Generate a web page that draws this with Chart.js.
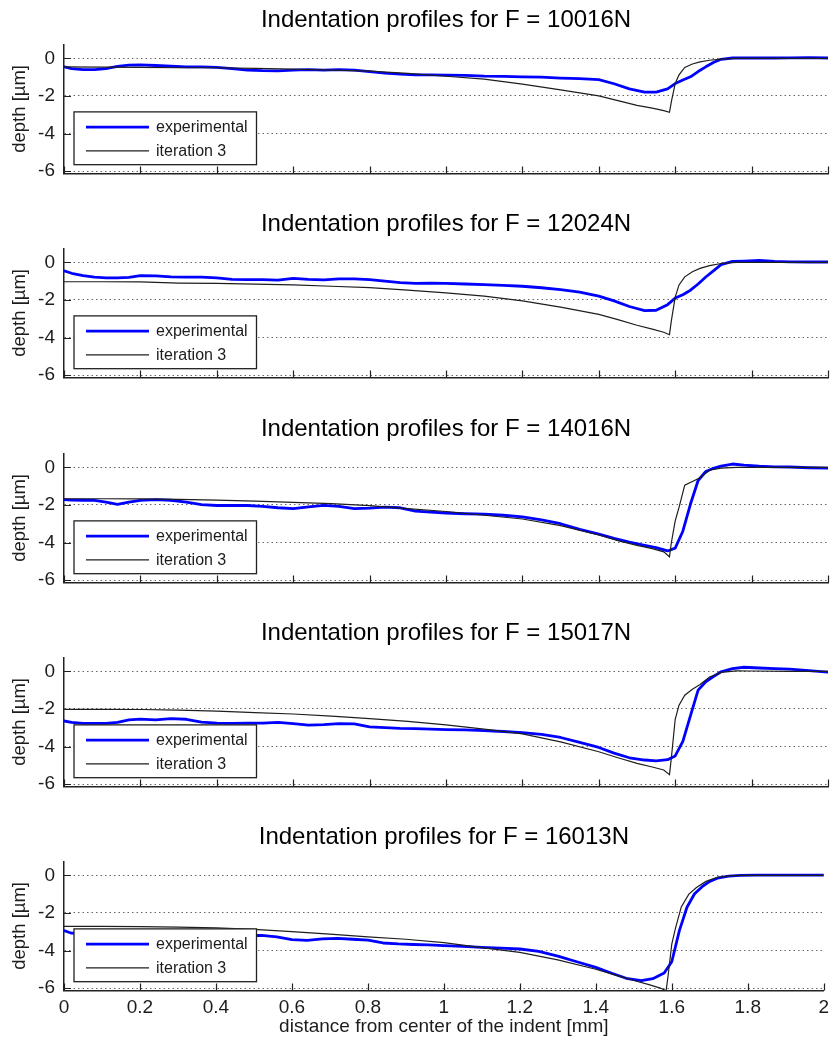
<!DOCTYPE html>
<html>
<head>
<meta charset="utf-8">
<script src="https://cdn.jsdelivr.net/npm/chart.js@4/dist/chart.umd.min.js"></script>
<style>
  html, body { margin: 0; padding: 0; background: #fff; }
  #wrap { position: relative; width: 835px; height: 1047px; overflow: hidden; }
  #wrap canvas { position: absolute; left: 0; }
</style>
</head>
<body>
<div id="wrap"></div>
<script>
// Applied loads, one panel each
const forces = [10016, 12024, 14016, 15017, 16013];

// Axis ticks
const xTicks = [0, 0.2, 0.4, 0.6, 0.8, 1, 1.2, 1.4, 1.6, 1.8, 2];
const yTicks = [0, -2, -4, -6];

// Measured profiles: distance [mm] and depth [µm]
const expX = [0, 0.02, 0.05, 0.08, 0.11, 0.14, 0.17, 0.2, 0.24, 0.28,
  0.32, 0.36, 0.4, 0.44, 0.48, 0.52, 0.56, 0.6, 0.64, 0.68,
  0.72, 0.76, 0.8, 0.84, 0.88, 0.92, 0.96, 1.0, 1.05, 1.1,
  1.15, 1.2, 1.25, 1.3, 1.35, 1.4, 1.44, 1.48, 1.52, 1.55,
  1.58, 1.6, 1.62, 1.64, 1.66, 1.68, 1.7, 1.72, 1.75, 1.78,
  1.82, 1.86, 1.9, 1.95, 2.0];

const exp10016 = [-0.45, -0.55, -0.6, -0.6, -0.55, -0.42, -0.36, -0.35, -0.38, -0.42,
  -0.45, -0.45, -0.48, -0.55, -0.62, -0.65, -0.66, -0.62, -0.6, -0.62,
  -0.6, -0.63, -0.7, -0.78, -0.84, -0.88, -0.88, -0.89, -0.9, -0.95,
  -0.96, -0.98, -1.0, -1.05, -1.08, -1.13, -1.35, -1.62, -1.8, -1.8,
  -1.62, -1.34, -1.15, -0.98, -0.7, -0.45, -0.22, -0.05, 0.02, 0.02,
  0.03, 0.02, 0.03, 0.04, 0.02];

const exp12024 = [-0.45, -0.58, -0.7, -0.78, -0.82, -0.82, -0.8, -0.7, -0.72, -0.77,
  -0.78, -0.78, -0.82, -0.9, -0.92, -0.92, -0.95, -0.85, -0.9, -0.93,
  -0.88, -0.88, -0.92, -1.0, -1.08, -1.12, -1.1, -1.12, -1.15, -1.18,
  -1.22, -1.27, -1.35, -1.45, -1.58, -1.8, -2.05, -2.35, -2.57, -2.55,
  -2.25, -1.9, -1.72, -1.48, -1.15, -0.78, -0.45, -0.12, 0.05, 0.07,
  0.1, 0.05, 0.03, 0.02, 0.02];

const exp14016 = [-1.72, -1.74, -1.75, -1.76, -1.85, -1.97, -1.85, -1.76, -1.72, -1.75,
  -1.85, -1.98, -2.03, -2.03, -2.03, -2.08, -2.15, -2.2, -2.1, -2.02,
  -2.08, -2.2, -2.17, -2.12, -2.15, -2.33, -2.38, -2.43, -2.47, -2.49,
  -2.55, -2.63, -2.8, -3.0, -3.3, -3.55, -3.78, -3.98, -4.15, -4.27,
  -4.45, -4.3, -3.4, -1.95, -0.7, -0.22, -0.05, 0.07, 0.18, 0.12,
  0.06, 0.03, 0.02, -0.02, -0.04];

const exp15017 = [-2.64, -2.72, -2.77, -2.77, -2.77, -2.72, -2.58, -2.54, -2.58, -2.52,
  -2.55, -2.7, -2.76, -2.77, -2.76, -2.75, -2.72, -2.78, -2.86, -2.84,
  -2.78, -2.8, -2.95, -3.0, -3.04, -3.05, -3.08, -3.1, -3.12, -3.15,
  -3.2, -3.26, -3.35, -3.52, -3.78, -4.05, -4.35, -4.6, -4.72, -4.76,
  -4.7, -4.5, -3.73, -2.36, -1.0, -0.55, -0.28, -0.02, 0.15, 0.22,
  0.18, 0.15, 0.12, 0.04, -0.04];

const exp16013 = [-2.94, -3.08, -3.1, -3.1, -3.1, -3.12, -3.1, -3.08, -3.1, -3.12,
  -3.15, -3.15, -3.15, -3.18, -3.2, -3.2, -3.28, -3.42, -3.46, -3.38,
  -3.35, -3.4, -3.45, -3.6, -3.65, -3.68, -3.7, -3.74, -3.78, -3.83,
  -3.87, -3.92, -4.05, -4.3, -4.6, -4.9, -5.2, -5.48, -5.6, -5.5,
  -5.2, -4.6, -2.94, -1.7, -0.98, -0.6, -0.32, -0.15, -0.04, 0.0,
  0.01, 0.01, 0.01, 0.01, 0.01];

// Simulated profiles (iteration 3)
const simX = [0, 0.1, 0.2, 0.3, 0.4, 0.5, 0.6, 0.7, 0.8, 0.9,
  1.0, 1.1, 1.2, 1.3, 1.4, 1.45, 1.5, 1.54, 1.57, 1.585,
  1.59, 1.6, 1.61, 1.625, 1.645, 1.665, 1.69, 1.72, 1.76, 1.8,
  1.9, 2.0];

const sim10016 = [-0.45, -0.47, -0.48, -0.5, -0.5, -0.53, -0.57, -0.62, -0.68, -0.8,
  -0.95, -1.1, -1.37, -1.68, -2.0, -2.25, -2.5, -2.65, -2.78, -2.87,
  -2.3, -1.33, -0.88, -0.48, -0.3, -0.19, -0.1, -0.04, 0, 0,
  0, 0];

const sim12024 = [-1.03, -1.03, -1.04, -1.1, -1.12, -1.16, -1.2, -1.27, -1.34, -1.48,
  -1.62, -1.8, -2.05, -2.38, -2.77, -3.05, -3.35, -3.55, -3.72, -3.85,
  -3.1, -1.85, -1.2, -0.77, -0.5, -0.32, -0.17, -0.06, 0, 0,
  0, 0];

const sim14016 = [-1.67, -1.67, -1.68, -1.7, -1.74, -1.8, -1.86, -1.93, -2.04, -2.2,
  -2.35, -2.55, -2.75, -3.1, -3.6, -3.9, -4.15, -4.33, -4.5, -4.76,
  -4.0, -2.85, -2.13, -0.95, -0.75, -0.55, -0.15, -0.04, 0, 0,
  0, 0];

const sim15017 = [-2.02, -2.02, -2.03, -2.06, -2.12, -2.2, -2.27, -2.38, -2.52, -2.66,
  -2.85, -3.07, -3.33, -3.75, -4.28, -4.6, -4.9, -5.09, -5.25, -5.5,
  -4.6, -2.55, -1.8, -1.27, -0.95, -0.7, -0.3, -0.05, 0.03, 0.02,
  0, 0];

const sim16013 = [-2.72, -2.72, -2.73, -2.75, -2.8, -2.88, -3.0, -3.13, -3.27, -3.4,
  -3.58, -3.85, -4.1, -4.5, -5.0, -5.3, -5.6, -5.82, -6.0, -6.15,
  -5.4, -3.66, -2.8, -1.68, -1.0, -0.65, -0.32, -0.1, -0.01, 0,
  0, 0];

const expSeries = [exp10016, exp12024, exp14016, exp15017, exp16013];
const simSeries = [sim10016, sim12024, sim14016, sim15017, sim16013];

const FONT = '"Liberation Sans", Arial, Helvetica, sans-serif';
Chart.defaults.font.family = FONT;

// Panel placement on the page
const panelTops = [0, 204, 409, 613, 817];
const panelHeights = [204, 205, 204, 204, 230];
const PLOT_BOTTOM = 173.5;   // bottom axis, relative to a panel's top
const TEXT = '#1c1c1c';

function toPoints(xs, ys) {
  return xs.map((x, i) => ({ x: x, y: ys[i] }));
}

function fmt(v) {
  return String(Math.round(v * 10) / 10);
}

// Inward tick marks and the boxed legend
const axisDecor = {
  id: 'axisDecor',
  afterDraw(chart) {
    const { ctx, chartArea: a, scales: { x, y } } = chart;
    ctx.save();
    ctx.strokeStyle = '#222';
    ctx.lineWidth = 1.2;
    ctx.beginPath();
    xTicks.forEach(v => {
      const px = Math.round(x.getPixelForValue(v)) + 0.5;
      ctx.moveTo(px, a.bottom);
      ctx.lineTo(px, a.bottom - 7);
    });
    yTicks.forEach(v => {
      const py = Math.round(y.getPixelForValue(v)) + 0.5;
      ctx.moveTo(a.left, py);
      ctx.lineTo(a.left + 7, py);
    });
    ctx.stroke();

    const y0 = y.getPixelForValue(0);
    const bx = 74, by = y0 + 53.5, bw = 182.5, bh = 52.8;
    ctx.fillStyle = '#fff';
    ctx.fillRect(bx, by, bw, bh);
    ctx.lineWidth = 1.3;
    ctx.strokeStyle = '#222';
    ctx.strokeRect(bx, by, bw, bh);

    const rows = ['experimental', 'iteration 3'];
    rows.forEach((label, i) => {
      const ds = chart.data.datasets.find(d => d.label === label);
      const ry = by + 15.2 + i * 23.7;
      ctx.beginPath();
      ctx.strokeStyle = ds.borderColor;
      ctx.lineWidth = ds.borderWidth;
      ctx.moveTo(86, ry);
      ctx.lineTo(149, ry);
      ctx.stroke();
      ctx.fillStyle = TEXT;
      ctx.font = '16px ' + FONT;
      ctx.textBaseline = 'middle';
      ctx.textAlign = 'left';
      ctx.fillText(label, 156, ry + 1);
    });
    ctx.restore();
  }
};

function makePanel(i) {
  const isLast = i === forces.length - 1;
  const h = panelHeights[i];
  const canvas = document.createElement('canvas');
  canvas.width = 835;
  canvas.height = h;
  canvas.style.width = '835px';
  canvas.style.height = h + 'px';
  canvas.style.top = panelTops[i] + 'px';
  document.getElementById('wrap').appendChild(canvas);

  new Chart(canvas, {
    type: 'line',
    data: {
      datasets: [
        {
          label: 'iteration 3',
          data: toPoints(simX, simSeries[i]),
          borderColor: '#1e1e1e',
          borderWidth: 1.2,
          pointRadius: 0,
          tension: 0,
          order: 0
        },
        {
          label: 'experimental',
          data: toPoints(expX, expSeries[i]),
          borderColor: '#0000ff',
          borderWidth: 2.8,
          borderJoinStyle: 'round',
          borderCapStyle: 'round',
          pointRadius: 0,
          tension: 0,
          order: 1
        }
      ]
    },
    options: {
      responsive: false,
      animation: false,
      devicePixelRatio: 1,
      events: [],
      layout: { padding: { left: 0, right: 7, top: 0, bottom: 0 } },
      plugins: {
        legend: { display: false },
        tooltip: { enabled: false },
        title: {
          display: true,
          text: 'Indentation profiles for F = ' + forces[i] + 'N',
          fullSize: false,
          color: '#000',
          font: { family: FONT, size: 24, weight: 'normal', lineHeight: 1.2 },
          padding: { top: 6, bottom: 9.5 }
        }
      },
      scales: {
        x: {
          type: 'linear',
          min: 0,
          max: 2,
          afterBuildTicks: s => { s.ticks = xTicks.map(v => ({ value: v })); },
          afterFit: s => { s.height = h - PLOT_BOTTOM; },
          grid: { display: false, drawTicks: false },
          border: { display: true, color: '#222', width: 1.5 },
          ticks: {
            display: isLast,
            autoSkip: false,
            maxRotation: 0,
            padding: 6,
            color: TEXT,
            font: { family: FONT, size: 19 },
            callback: v => fmt(v)
          },
          title: {
            display: isLast,
            text: 'distance from center of the indent [mm]',
            color: TEXT,
            font: { family: FONT, size: 19 },
            padding: { top: 0, bottom: 9 }
          }
        },
        y: {
          min: -6.13,
          max: 0.75,
          afterBuildTicks: s => { s.ticks = yTicks.map(v => ({ value: v })); },
          afterFit: s => { s.width = 64; },
          grid: { display: true, drawTicks: false, color: '#666', lineWidth: 1 },
          border: { display: true, color: '#222', width: 1.5, dash: [1.5, 3] },
          ticks: {
            padding: 9,
            color: TEXT,
            font: { family: FONT, size: 19 },
            callback: v => fmt(v)
          },
          title: {
            display: true,
            text: 'depth [µm]',
            color: TEXT,
            font: { family: FONT, size: 18.5 },
            padding: { top: 9, bottom: 0 }
          }
        }
      }
    },
    plugins: [axisDecor]
  });
}

forces.forEach((f, i) => makePanel(i));
</script>
</body>
</html>
